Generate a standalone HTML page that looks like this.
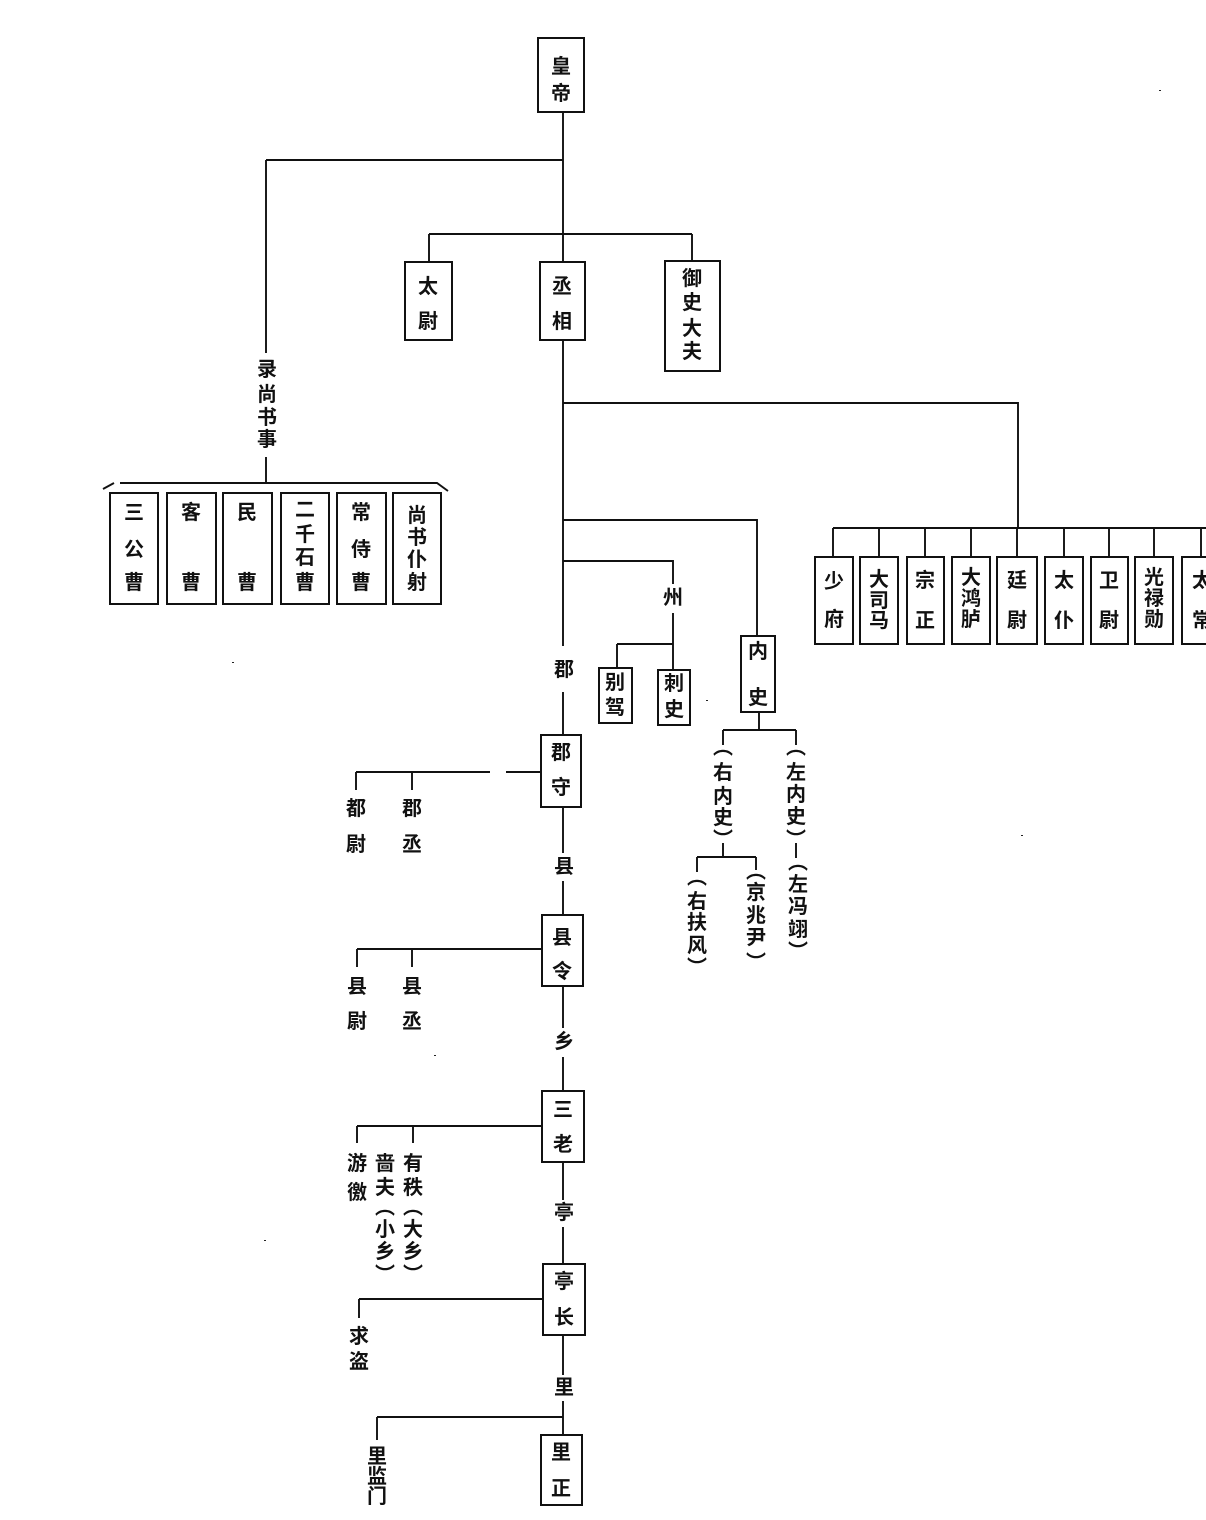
<!DOCTYPE html>
<html>
<head>
<meta charset="utf-8">
<style>
html,body{margin:0;padding:0;background:#fff;}
svg{display:block;}
text{font-family:"Liberation Sans","Noto Sans CJK SC",sans-serif;font-size:20px;font-weight:700;fill:#111;text-anchor:middle;dominant-baseline:central;}
</style>
</head>
<body>
<svg width="1206" height="1520" viewBox="0 0 1206 1520" xmlns="http://www.w3.org/2000/svg">
<path fill="none" stroke="#111" stroke-width="1.9" d="
M563 112V262 M266 160H563 M266 160V353 M266 457V483
M103 489L114 483 M120 483H437L448 491
M429 234H692 M429 234V262 M692 234V260
M563 340V646 M563 692V735
M563 403H1018V528 M833 528H1206
M833 528V557 M879 528V557 M925 528V557 M971 528V557 M1017 528V557 M1064 528V557 M1109 528V557 M1154 528V557 M1201 528V557
M563 520H757V636
M563 561H673V584 M673 613V670 M617 644H673 M617 644V668
M759 712V730 M723 730H796 M723 730V745 M796 730V745
M796 843V858 M723 843V857 M697 857H756 M697 857V872 M756 857V870
M356 772H490 M506 772H541 M356 772V790 M412 772V790
M563 807V853 M563 881V915
M357 949H542 M357 949V967 M412 949V967
M563 986V1028 M563 1057V1091
M357 1126H542 M357 1126V1143 M413 1126V1143
M563 1162V1200 M563 1227V1264
M359 1299H543 M359 1299V1318
M563 1335V1375 M563 1401V1435
M377 1417H563 M377 1417V1440"/>
<path fill="none" stroke="#111" stroke-width="2" d="
M538 38h46v74h-46z M405 262h47v78h-47z M540 262h45v78h-45z M665 261h55v110h-55z
M110 493h48v111h-48z M167 493h49v111h-49z M223 493h49v111h-49z M281 493h48v111h-48z M337 493h49v111h-49z M393 493h48v111h-48z
M815 557h38v87h-38z M860 557h38v87h-38z M907 557h37v87h-37z M952 557h38v87h-38z M997 557h40v87h-40z M1045 557h38v87h-38z M1091 557h37v87h-37z M1135 557h38v87h-38z M1182 557h40v87h-40z
M599 668h33v55h-33z M658 670h32v55h-32z M741 636h34v76h-34z
M541 735h40v72h-40z M542 915h41v71h-41z M542 1091h42v71h-42z M543 1264h42v71h-42z M541 1435h41v70h-41z"/>
<path fill="#222" d="M1159 90h2v1h-2z M232 662h2v1h-2z M706 700h2v1h-2z M1021 835h2v1h-2z M434 1055h2v1h-2z M264 1240h2v1h-2z"/>
<text x="561 561" y="67 94">皇帝</text>
<text x="428 428" y="287 322">太尉</text>
<text x="562 562" y="287 322">丞相</text>
<text x="692 692 692 692" y="279 303 329 352">御史大夫</text>
<text x="267 267 267 267" y="370 395 418 440">录尚书事</text>
<text x="134 134 134" y="513 550 583">三公曹</text>
<text x="191 191" y="513 583">客曹</text>
<text x="247 247" y="513 583">民曹</text>
<text x="305 305 305 305" y="510 535 558 583">二千石曹</text>
<text x="361 361 361" y="513 550 583">常侍曹</text>
<text x="417 417 417 417" y="516 538 560 583">尚书仆射</text>
<text x="834 834" y="582 620">少府</text>
<text x="879 879 879" y="580 601 621">大司马</text>
<text x="925 925" y="581 621">宗正</text>
<text x="971 971 971" y="578 599 620">大鸿胪</text>
<text x="1017 1017" y="581 621">廷尉</text>
<text x="1064 1064" y="581 621">太仆</text>
<text x="1109 1109" y="581 621">卫尉</text>
<text x="1154 1154 1154" y="578 599 620">光禄勋</text>
<text x="1202 1202" y="581 621">太常</text>
<text x="564" y="670">郡</text>
<text x="673" y="598">州</text>
<text x="564" y="867">县</text>
<text x="564" y="1042">乡</text>
<text x="564" y="1213">亭</text>
<text x="564" y="1388">里</text>
<text x="615 615" y="683 708">别驾</text>
<text x="674 674" y="684 710">刺史</text>
<text x="758 758" y="652 698">内史</text>
<text x="561 561" y="753 788">郡守</text>
<text x="562 562" y="938 972">县令</text>
<text x="563 563" y="1110 1145">三老</text>
<text x="564 564" y="1282 1318">亭长</text>
<text x="561 561" y="1453 1489">里正</text>
<text x="356 356" y="809 845">都尉</text>
<text x="412 412" y="809 845">郡丞</text>
<text x="357 357" y="987 1022">县尉</text>
<text x="412 412" y="987 1022">县丞</text>
<text x="357 357" y="1164 1193">游徼</text>
<text x="385 385 385 385 385 385" y="1164 1188 1208 1230 1252 1275">啬夫︵小乡︶</text>
<text x="413 413 413 413 413 413" y="1164 1188 1208 1230 1252 1275">有秩︵大乡︶</text>
<text x="359 359" y="1337 1362">求盗</text>
<text x="377 377 377" y="1457 1477 1497">里监门</text>
<text x="723 723 723 723 723" y="748 773 797 818 840">︵右内史︶</text>
<text x="796 796 796 796 796" y="748 773 795 817 840">︵左内史︶</text>
<text x="798 798 798 798 798" y="863 885 907 930 952">︵左冯翊︶</text>
<text x="697 697 697 697 697" y="878 902 923 946 968">︵右扶风︶</text>
<text x="756 756 756 756 756" y="872 893 916 938 963">︵京兆尹︶</text>
</svg>
</body>
</html>
